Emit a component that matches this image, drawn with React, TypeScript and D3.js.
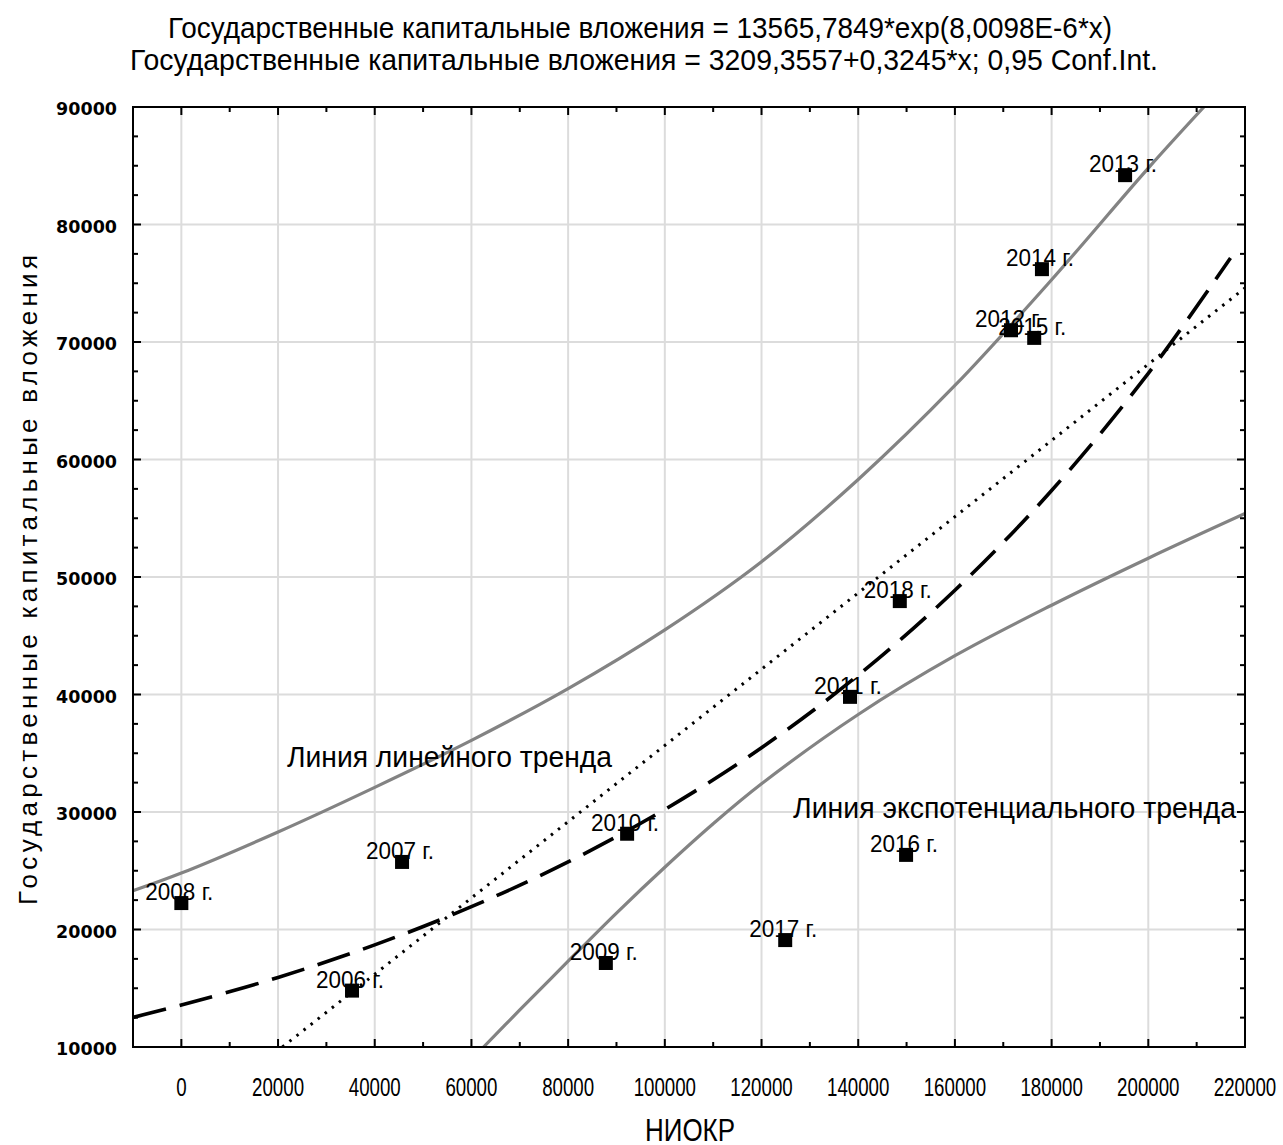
import * as d3 from 'd3';

// observations: НИОКР (x) vs государственные капитальные вложения (y)
const yearLabels = ['2006 г.', '2007 г.', '2008 г.', '2009 г.', '2010 г.', '2011 г.', '2012 г.', '2013 г.', '2014 г.', '2015 г.', '2016 г.', '2017 г.', '2018 г.'];
const niokr = [35300, 45650, 0, 87800, 92200, 138300, 171600, 195200, 178000, 176400, 149900, 124900, 148600];
const capInv = [14800, 25750, 22250, 17150, 28150, 39800, 71000, 84200, 76200, 70350, 26350, 19100, 47950];

// dotted linear trend, read at its two ends
const linX = [20900, 220000];
const linY = [10000, 74600];

// dashed exponential trend
const expX = [-10000, 0, 20000, 40000, 60000, 80000, 100000, 120000, 140000, 160000, 180000, 200000, 217000];
const expY = [12520, 13570, 15920, 18690, 21940, 25750, 30220, 35470, 41640, 48870, 57360, 67330, 77150];

// grey confidence band, upper and lower
const upX = [-10000, 0, 20000, 40000, 60000, 80000, 100000, 120000, 140000, 160000, 180000, 200000, 211500];
const upY = [23300, 24800, 28300, 32100, 36100, 40500, 45500, 51300, 58300, 66300, 75300, 84800, 90000];
const loX = [62500, 70000, 80000, 90000, 100000, 110000, 120000, 140000, 160000, 180000, 200000, 220000];
const loY = [10000, 13150, 17300, 21400, 25300, 29000, 32400, 38300, 43300, 47600, 51600, 55400];

const xTickLabels = [0, 20000, 40000, 60000, 80000, 100000, 120000, 140000, 160000, 180000, 200000, 220000];
const yTickLabels = [10000, 20000, 30000, 40000, 50000, 60000, 70000, 80000, 90000];

const narrow = '"Liberation Sans Narrow", "Arial Narrow", "Liberation Sans", sans-serif';

export default function App() {
  const W = 1283;
  const H = 1145;
  const left = 133, right = 1245, top = 107, bottom = 1047;

  const x = d3.scaleLinear().domain([-10000, 220000]).range([left, right]);
  const y = d3.scaleLinear().domain([10000, 90000]).range([bottom, top]);

  const line = d3
    .line<[number, number]>()
    .x((d) => x(d[0]))
    .y((d) => y(d[1]))
    .curve(d3.curveCatmullRom.alpha(0.5));

  const zip = (xs: number[], ys: number[]) => xs.map((v, i) => [v, ys[i]] as [number, number]);

  const xMinor = d3.range(-10000, 220001, 10000);
  const yMinor = d3.range(10000, 90001, 2500);
  const gridX = xTickLabels.filter((v) => v > -10000 && v < 220000);
  const gridY = yTickLabels.filter((v) => v > 10000 && v < 90000);

  return (
    <svg width={W} height={H} style={{ position: 'absolute', left: 0, top: 0, background: '#fff' }}>
      <defs>
        <clipPath id="plot">
          <rect x={left} y={top} width={right - left} height={bottom - top} />
        </clipPath>
      </defs>

      {/* title */}
      <text x={640} y={38} textAnchor="middle" fontFamily={narrow} fontSize={30} textLength={944} lengthAdjust="spacingAndGlyphs">
        Государственные капитальные вложения = 13565,7849*exp(8,0098E-6*x)
      </text>
      <text x={644} y={70} textAnchor="middle" fontFamily={narrow} fontSize={30} textLength={1028} lengthAdjust="spacingAndGlyphs">
        Государственные капитальные вложения = 3209,3557+0,3245*x; 0,95 Conf.Int.
      </text>

      {/* grid */}
      {gridX.map((v) => (
        <line key={'gx' + v} x1={x(v)} x2={x(v)} y1={top} y2={bottom} stroke="#dcdcdc" strokeWidth={2} />
      ))}
      {gridY.map((v) => (
        <line key={'gy' + v} x1={left} x2={right} y1={y(v)} y2={y(v)} stroke="#dcdcdc" strokeWidth={2} />
      ))}

      <g clipPath="url(#plot)" fill="none">
        <path d={line(zip(upX, upY)) || ''} stroke="#838383" strokeWidth={3.2} />
        <path d={line(zip(loX, loY)) || ''} stroke="#838383" strokeWidth={3.2} />
        <path d={line(zip(linX, linY)) || ''} stroke="#000" strokeWidth={3} strokeDasharray="2.5 6.5" />
        <path d={line(zip(expX, expY)) || ''} stroke="#000" strokeWidth={3.6} strokeDasharray="34 14" />
      </g>

      {/* points and their labels */}
      {niokr.map((v, i) => (
        <g key={yearLabels[i]}>
          <text
            x={x(v) - 2}
            y={y(capInv[i]) - 3}
            textAnchor="middle"
            fontFamily={narrow}
            fontSize={24}
            textLength={68}
            lengthAdjust="spacingAndGlyphs"
          >
            {yearLabels[i]}
          </text>
          <rect x={x(v) - 7} y={y(capInv[i]) - 7} width={14} height={14} fill="#000" />
        </g>
      ))}

      {/* annotations */}
      <text x={287} y={767} fontFamily={narrow} fontSize={30} textLength={325} lengthAdjust="spacingAndGlyphs">
        Линия линейного тренда
      </text>
      <text x={793} y={818} fontFamily={narrow} fontSize={30} textLength={443} lengthAdjust="spacingAndGlyphs">
        Линия экспотенциального тренда
      </text>

      {/* frame and inward ticks */}
      <rect x={left} y={top} width={right - left} height={bottom - top} fill="none" stroke="#000" strokeWidth={2} />
      {xMinor.map((v) => {
        const len = v % 20000 === 0 ? 8 : 5;
        return (
          <g key={'xt' + v} stroke="#000" strokeWidth={2}>
            <line x1={x(v)} x2={x(v)} y1={bottom} y2={bottom - len} />
            <line x1={x(v)} x2={x(v)} y1={top} y2={top + len} />
          </g>
        );
      })}
      {yMinor.map((v) => {
        const len = v % 10000 === 0 ? 8 : 5;
        return (
          <g key={'yt' + v} stroke="#000" strokeWidth={2}>
            <line x1={left} x2={left + len} y1={y(v)} y2={y(v)} />
            <line x1={right} x2={right - len} y1={y(v)} y2={y(v)} />
          </g>
        );
      })}

      {/* tick labels */}
      {xTickLabels.map((v) => (
        <text
          key={'xl' + v}
          x={x(v)}
          y={1096}
          textAnchor="middle"
          fontFamily={narrow}
          fontSize={25}
          textLength={String(v).length * 10.4}
          lengthAdjust="spacingAndGlyphs"
        >
          {v}
        </text>
      ))}
      {yTickLabels.map((v) => (
        <text
          key={'yl' + v}
          x={117}
          y={y(v) + 8}
          textAnchor="end"
          fontFamily='"DejaVu Sans", sans-serif'
          fontWeight="bold"
          fontSize={17.5}
        >
          {v}
        </text>
      ))}

      {/* axis titles */}
      <text x={690} y={1141} textAnchor="middle" fontFamily={narrow} fontSize={31} textLength={90} lengthAdjust="spacingAndGlyphs">
        НИОКР
      </text>
      <text
        transform="translate(37,580) rotate(-90)"
        textAnchor="middle"
        fontFamily='"Liberation Sans", Arial, sans-serif'
        fontSize={26}
        textLength={650}
        lengthAdjust="spacing"
      >
        Государственные капитальные вложения
      </text>
    </svg>
  );
}
